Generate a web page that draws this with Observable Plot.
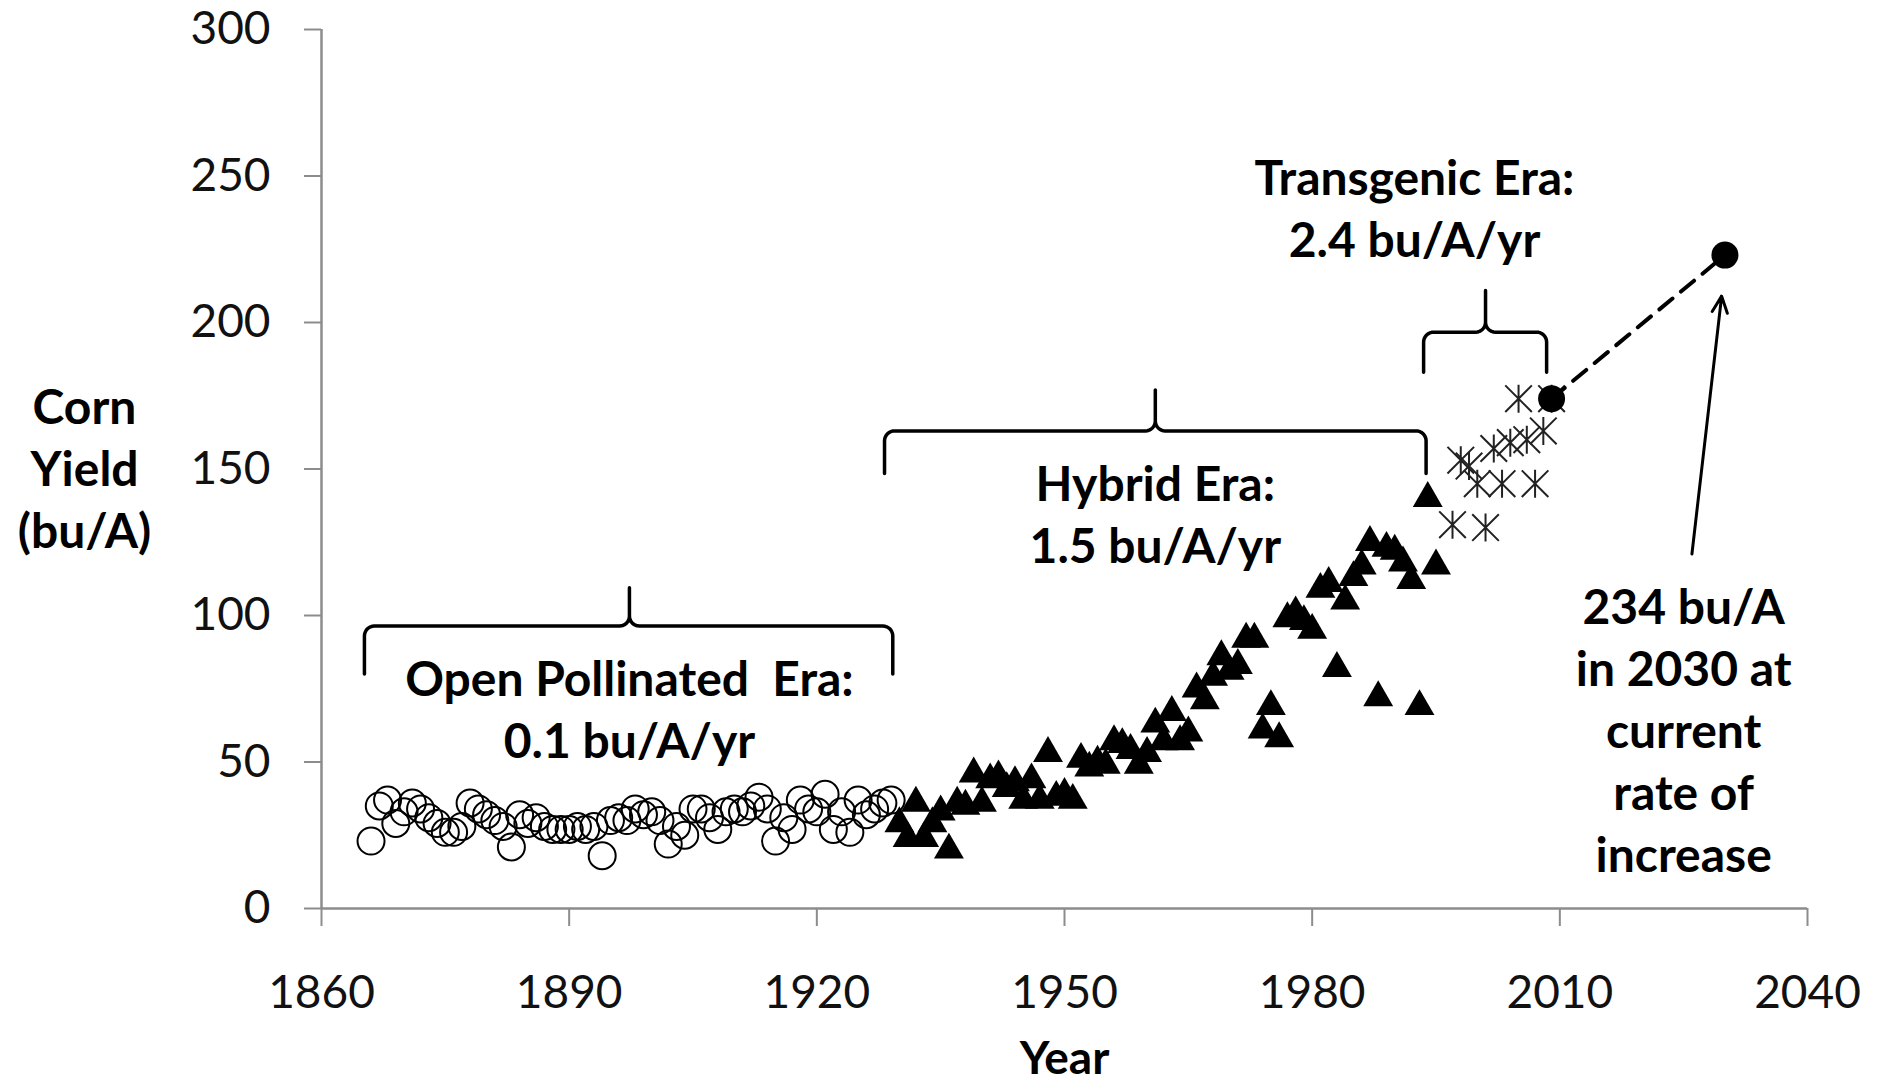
<!DOCTYPE html>
<html>
<head>
<meta charset="utf-8">
<script src="https://cdn.jsdelivr.net/npm/d3@7"></script>
<script src="https://cdn.jsdelivr.net/npm/@observablehq/plot@0.6"></script>
<style>
html, body { margin: 0; padding: 0; background: #fff; }
#chart svg { display: block; }
</style>
</head>
<body>
<div id="chart"></div>
<script>
// ---------- data ----------
const openYears = [1866,1867,1868,1869,1870,1871,1872,1873,1874,1875,1876,1877,1878,1879,1880,1881,1882,1883,1884,1885,1886,1887,1888,1889,1890,1891,1892,1893,1894,1895,1896,1897,1898,1899,1900,1901,1902,1903,1904,1905,1906,1907,1908,1909,1910,1911,1912,1913,1914,1915,1916,1917,1918,1919,1920,1921,1922,1923,1924,1925,1926,1927,1928,1929];
const openYield = [23,35,37,29,33,36,34,31,29,26,26,28,36,34,32,30,28,21,32,29,31,28,27,27,27,28,27,28,18,30,31,30,34,32,33,30,22,28,25,34,34,31,27,33,34,33,35,38,34,23,31,27,37,34,33,39,27,33,26,37,32,34,36,37];

const hybridYears = [1930,1931,1932,1933,1934,1935,1936,1937,1938,1939,1940,1941,1942,1943,1944,1945,1946,1947,1948,1949,1950,1951,1952,1953,1954,1955,1956,1957,1958,1959,1960,1961,1962,1963,1964,1965,1966,1967,1968,1969,1970,1971,1972,1973,1974,1975,1976,1977,1978,1979,1980,1981,1982,1983,1984,1985,1986,1987,1988,1989,1990,1991,1992,1993,1994,1995];
const hybridYield = [30,25,37,25,30,34,21,37,36,47,37,45,46,42,44,38,45,38,54,39,40,38,52,49,51,50,58,57,55,50,54,64,58,68,58,61,76,72,80,87,82,84,93,93,62,70,59,100,102,99,96,110,112,83,106,114,118,126,73,124,123,119,113,70,141,118];

const transYears = [1997,1998,1999,2000,2001,2002,2003,2004,2005,2006,2007,2008,2009];
const transYield = [131,153,151,145,130,157,145,159,174,160,145,163,174];

const projYears = [2009, 2030];
const projYield = [174, 223];

const xDomain = [1860, 2040];
const yDomain = [0, 300];
const xTicks = [1860, 1890, 1920, 1950, 1980, 2010, 2040];
const yTicks = [0, 50, 100, 150, 200, 250, 300];
const yTitle = "Corn\nYield\n(bu/A)";
const xTitle = "Year";

// era annotations
const annoText = ["Open Pollinated  Era:\n0.1 bu/A/yr", "Hybrid Era:\n1.5 bu/A/yr", "Transgenic Era:\n2.4 bu/A/yr", "234 bu/A\nin 2030 at\ncurrent\nrate of\nincrease"];
const annoX = [1897.3, 1961.0, 1992.4, 2025.0];
const annoY = [68.7, 135.3, 239.6, 61.6];

// braces (start year, end year, middle year, bar level, foot level, tip level)
const braceStart = [1865.2, 1928.2, 1993.5];
const braceEnd   = [1929.2, 1993.8, 2008.4];
const braceMid   = [1897.3, 1961.0, 2001.0];
const braceBar   = [96.4, 163.0, 196.7];
const braceFoot  = [80.0, 148.5, 183.0];
const braceTip   = [109.5, 177.0, 210.9];

// projection arrow
const arrowFrom = [2026.0, 121];
const arrowTo = [2029.6, 209];

// ---------- derived tables ----------
const openData = openYears.map((x, i) => ({x, y: openYield[i]}));
const hybridData = hybridYears.map((x, i) => ({x, y: hybridYield[i]}));
const transData = transYears.map((x, i) => ({x, y: transYield[i]}));
const projData = projYears.map((x, i) => ({x, y: projYield[i]}));
const annos = annoText.map((t, i) => ({text: t, x: annoX[i], y: annoY[i]}));

// brace outlines with rounded corners (radii in data units, ~10px)
const rx = 1.2, ry = 3.4, steps = 8;
const bracePts = [];
braceStart.forEach((x0, b) => {
  const x1 = braceEnd[b], m = braceMid[b], bar = braceBar[b], foot = braceFoot[b], tip = braceTip[b];
  const push = (x, y) => bracePts.push({b, x, y});
  const arc = (cx, cy, a0, a1) => {
    for (let k = 0; k <= steps; k++) {
      const a = (a0 + (a1 - a0) * k / steps) * Math.PI / 180;
      push(cx + rx * Math.cos(a), cy + ry * Math.sin(a));
    }
  };
  push(x0, foot);
  arc(x0 + rx, bar - ry, 180, 90);
  arc(m - rx, bar + ry, -90, 0);
  push(m, tip);
  arc(m + rx, bar + ry, 180, 270);
  arc(x1 - rx, bar - ry, 90, 0);
  push(x1, foot);
});

// Excel-like star marker: vertical bar plus an X
const starSymbol = {
  draw(context, size) {
    const r = Math.sqrt(size / Math.PI);
    const d = r * 0.95;
    context.moveTo(0, -r); context.lineTo(0, r);
    context.moveTo(-d, -d); context.lineTo(d, d);
    context.moveTo(-d, d); context.lineTo(d, -d);
  }
};

const font = "Lato, 'Open Sans', sans-serif";

const chart = Plot.plot({
  width: 1879,
  height: 1086,
  marginLeft: 321,
  marginRight: 72,
  marginTop: 29,
  marginBottom: 178,
  style: {fontFamily: font, background: "#fff"},
  x: {domain: xDomain},
  y: {domain: yDomain},
  marks: [
    Plot.ruleX([xDomain[0]], {stroke: "#8c8c8c", strokeWidth: 2.5}),
    Plot.ruleY([yDomain[0]], {stroke: "#8c8c8c", strokeWidth: 2.5}),
    Plot.axisY({ticks: yTicks, tickSize: 17, tickPadding: 34, stroke: "#8c8c8c", strokeWidth: 2, fill: "#111", fontSize: 46, label: null, tickFormat: "d"}),
    Plot.axisX({ticks: xTicks, tickSize: 18, tickPadding: 49, stroke: "#8c8c8c", strokeWidth: 2, fill: "#111", fontSize: 46, label: null, tickFormat: "d"}),
    Plot.dot(openData, {x: "x", y: "y", r: 13.5, stroke: "#000", strokeWidth: 2, fill: "none"}),
    Plot.dot(hybridData, {x: "x", y: "y", symbol: "triangle", r: 11.1, fill: "#000", stroke: "none", dy: 3}),
    Plot.dot(transData, {x: "x", y: "y", symbol: starSymbol, r: 14, fill: "none", stroke: "#222", strokeWidth: 2}),
    Plot.line(projData, {x: "x", y: "y", stroke: "#000", strokeWidth: 4, strokeDasharray: "17,11"}),
    Plot.dot(projData, {x: "x", y: "y", r: 13.5, fill: "#000", stroke: "none"}),
    Plot.line(bracePts, {x: "x", y: "y", z: "b", stroke: "#000", strokeWidth: 3.5, strokeLinejoin: "round", strokeLinecap: "round"}),
    Plot.text(annos, {x: "x", y: "y", text: "text", fontSize: 48, fontWeight: "bold", lineHeight: 1.29, fill: "#000", textAnchor: "middle"}),
    Plot.arrow([{x1: arrowFrom[0], y1: arrowFrom[1], x2: arrowTo[0], y2: arrowTo[1]}], {x1: "x1", y1: "y1", x2: "x2", y2: "y2", stroke: "#000", strokeWidth: 3, headLength: 9, headAngle: 50}),
    Plot.text([yTitle], {frameAnchor: "left", dx: -237, dy: -3, text: d => d, fontSize: 48, fontWeight: "bold", lineHeight: 1.29, fill: "#000", textAnchor: "middle"}),
    Plot.text([xTitle], {frameAnchor: "bottom", dy: 165, text: d => d, fontSize: 46, fontWeight: "bold", fill: "#000", textAnchor: "middle"})
  ]
});
document.getElementById("chart").appendChild(chart);
</script>
</body>
</html>
